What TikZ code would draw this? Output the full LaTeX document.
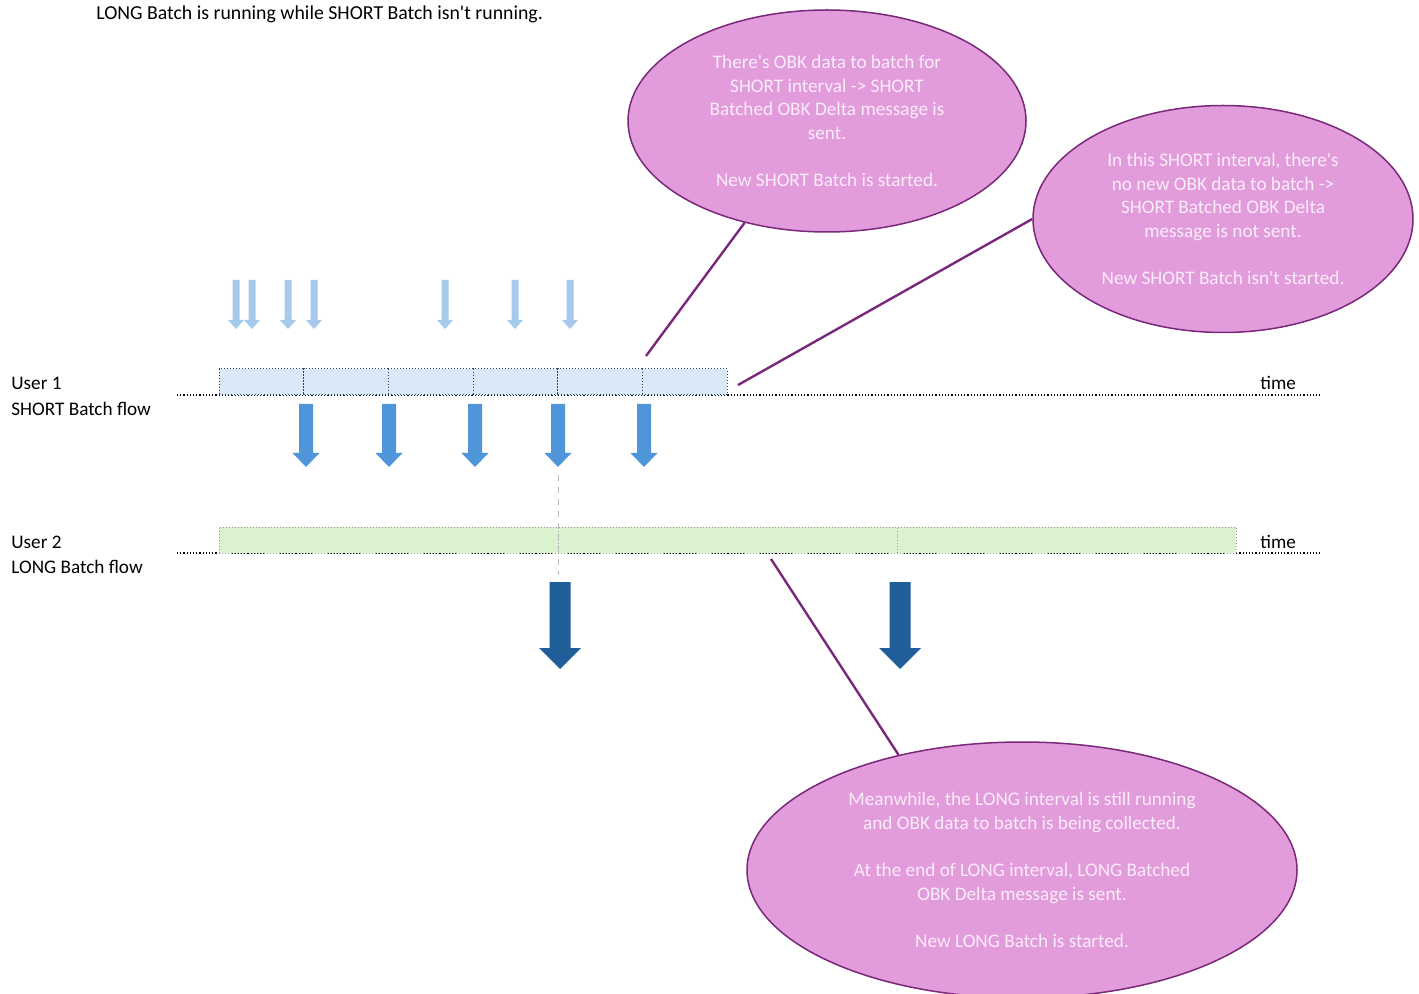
\documentclass[tikz,border=0pt]{standalone}
\usepackage{fontspec}
\setmainfont{Carlito}[Ligatures=TeXOff]
\usepackage{tikz}
\usetikzlibrary{positioning}
\usetikzlibrary{calc}
\usetikzlibrary{shapes.geometric}

\definecolor{bubblefill}{RGB}{226,156,220}
\definecolor{bubbleline}{RGB}{122,40,122}
\definecolor{bubbletext}{RGB}{250,236,248}
\definecolor{lightarrow}{RGB}{166,202,236}
\definecolor{midarrow}{RGB}{78,149,217}
\definecolor{darkarrow}{RGB}{32,94,154}
\definecolor{shortfill}{RGB}{218,233,248}
\definecolor{shortline}{RGB}{48,64,110}
\definecolor{longfill}{RGB}{218,242,208}
\definecolor{longline}{RGB}{150,150,150}

\tikzset{
  bubble/.style={ellipse, draw=bubbleline, line width=0.75pt, fill=bubblefill,
    text=bubbletext, align=center, inner sep=0pt},
  callout/.style={draw=bubbleline, line width=1.2pt},
  shortseg/.style={rectangle, draw=shortline, densely dotted, fill=shortfill,
    minimum width=42.33pt, minimum height=13pt, inner sep=0pt, line width=0.5pt},
  longseg/.style={rectangle, draw=longline, densely dotted, fill=longfill,
    minimum width=169.5pt, minimum height=13pt, inner sep=0pt, line width=0.5pt},
  timeline/.style={densely dotted, line width=0.6pt},
  label/.style={anchor=base west, inner sep=0pt},
}

% style, top point, length, shaft width, head width, head length
\newcommand{\blockarrow}[6]{%
  \fill[#1] (#2) ++({-(#4)/2},0) -- ++(#4,0) -- ++(0,{(#3)-(#6)})
    -- ++({((#5)-(#4))/2},0) -- ++({-(#5)/2},#6) -- ++({-(#5)/2},{-(#6)})
    -- ++({((#5)-(#4))/2},0) -- cycle;}

\begin{document}
\begin{tikzpicture}[x=0.5pt, y=-0.5pt, font=\fontsize{9.6}{11.8}\selectfont]
  \useasboundingbox (0,0) rectangle (1419,994);

  \node [label, font=\fontsize{9.9}{11.8}\selectfont] (title) at (96,20)
    {LONG Batch is running while SHORT Batch isn't running.};

  % user 1
  \node [label] (user1) at (11,390) {User 1};
  \node [label] (flow1) at (11,416) {SHORT Batch flow};
  \coordinate (t1a) at (177,395);
  \coordinate (t1b) at (1320,395);
  \draw [timeline] (t1a) -- (t1b);
  \node [label] (time1) at (1260,390) {time};
  \foreach \i in {1,...,6}
    \node [shortseg] (s\i) at ({219+84.67*(\i-0.5)}, 382) {};

  % user 2
  \node [label] (user2) at (11,548) {User 2};
  \node [label] (flow2) at (11,574) {LONG Batch flow};
  \coordinate (t2a) at (177,553);
  \coordinate (t2b) at (1320,553);
  \draw [timeline] (t2a) -- (t2b);
  \node [label] (time2) at (1260,548) {time};
  \foreach \i in {1,...,3}
    \node [longseg] (l\i) at ({219+339*(\i-0.5)}, 540) {};

  \coordinate (g1) at (558,475);
  \coordinate (g2) at (558,575);
  \draw [gray!55, dashed, line width=0.5pt] (g1) -- (g2);

  % incoming data
  \foreach \x in {236,252,288,314,445,515,570}
    {\blockarrow{lightarrow}{\x,280}{49}{7}{16}{9}}
  % short batch messages
  \foreach \x in {306,389,475,558,644}
    {\blockarrow{midarrow}{\x,404}{63}{14}{27}{14}}
  % long batch messages
  \foreach \x in {560,900}
    {\blockarrow{darkarrow}{\x,582}{87}{21}{42}{21}}

  % bubbles
  \node [bubble, minimum width=199pt, minimum height=111pt] (b1) at (827,121)
    {There's OBK data to batch for\\SHORT interval -> SHORT\\Batched OBK Delta message is\\sent.\\[11.8pt]New SHORT Batch is started.};
  \node [bubble, minimum width=190pt, minimum height=113.5pt] (b2) at (1223,219)
    {In this SHORT interval, there's\\no new OBK data to batch ->\\SHORT Batched OBK Delta\\message is not sent.\\[11.8pt]New SHORT Batch isn't started.};
  \node [bubble, minimum width=275pt, minimum height=128pt] (b3) at (1022,870)
    {Meanwhile, the LONG interval is still running\\and OBK data to batch is being collected.\\[11.8pt]At the end of LONG interval, LONG Batched\\OBK Delta message is sent.\\[11.8pt]New LONG Batch is started.};

  \coordinate (c1) at (646,356);
  \coordinate (c2) at (738,385);
  \coordinate (c3) at (771,559);
  \draw [callout] (b1.-129.6) -- (c1);
  \draw [callout] (b2.west) -- (c2);
  \draw [callout] (b3.137.6) -- (c3);
\end{tikzpicture}
\end{document}
